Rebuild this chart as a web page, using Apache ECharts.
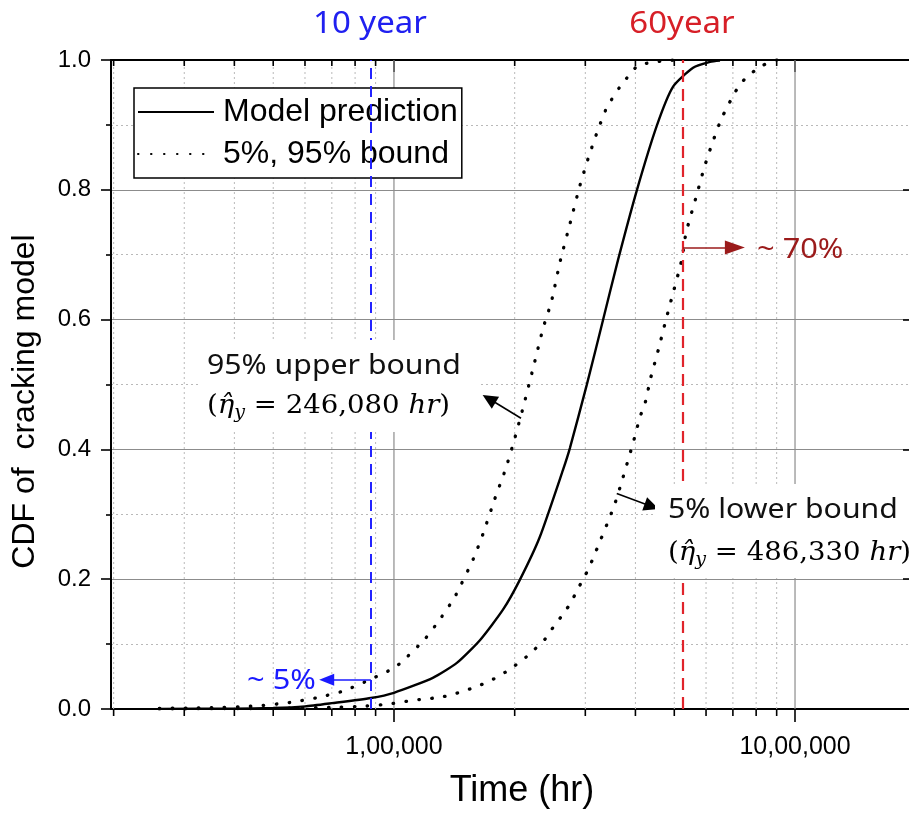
<!DOCTYPE html>
<html>
<head>
<meta charset="utf-8">
<script src="https://cdn.jsdelivr.net/npm/echarts@6/dist/echarts.min.js"></script>
<style>
html,body{margin:0;padding:0;background:#fff}
#chart{width:909px;height:814px}
</style>
</head>
<body>
<div id="chart"></div>
<script>
// 坐标轴刻度
let xTickValues = [100000, 1000000]
let xTickLabels = ['1,00,000', '10,00,000']
let xMinorTicks = [20000, 30000, 40000, 50000, 60000, 70000, 80000, 90000, 200000, 300000, 400000, 500000, 600000, 700000, 800000, 900000]
let yTickLabels = ['0.0', '0.2', '0.4', '0.6', '0.8', '1.0']

// 模型预测 (hr, CDF)
let modelTime = [26000, 40000, 50000, 60000, 70000, 87600, 100000, 125000, 143500, 163800, 187000, 206000, 231000, 263800, 274600, 302400, 332000, 362000, 403600, 453000, 496600, 557000, 614000, 650000]
let modelCdf = [0.0002, 0.0005, 0.0015, 0.004, 0.009, 0.017, 0.025, 0.048, 0.071, 0.106, 0.153, 0.199, 0.265, 0.368, 0.402, 0.499, 0.599, 0.692, 0.80, 0.90, 0.959, 0.988, 0.997, 0.999]

// 95% upper bound
let upperTime = [26000, 35000, 45000, 55000, 65000, 75000, 87600, 101500, 119500, 131500, 141900, 157900, 167000, 178000, 189400, 198400, 210200, 222300, 235500, 247000, 259500, 274800, 291000, 305200, 320300, 339000, 366200, 386500, 406500, 439000, 474000, 510000]
let upperCdf = [0.001, 0.002, 0.0046, 0.010, 0.018, 0.028, 0.046, 0.066, 0.108, 0.142, 0.173, 0.232, 0.271, 0.322, 0.368, 0.409, 0.466, 0.525, 0.587, 0.628, 0.689, 0.748, 0.807, 0.849, 0.887, 0.926, 0.959, 0.977, 0.992, 0.996, 0.999, 1.0]

// 5% lower bound
let lowerTime = [26000, 50000, 70000, 85500, 97300, 105500, 113500, 122500, 132800, 142800, 153300, 164500, 176900, 189300, 200500, 213500, 224800, 238300, 249500, 261000, 273600, 284300, 295400, 305200, 315400, 325200, 344500, 355800, 369700, 395500, 410700, 422700, 436600, 456000, 474000, 492600, 521900, 534600, 568600, 593000, 622000, 656000, 702500, 732000, 772700, 826000, 900000]
let lowerCdf = [0.0002, 0.001, 0.0025, 0.0046, 0.0077, 0.011, 0.014, 0.016, 0.019, 0.024, 0.030, 0.037, 0.046, 0.0565, 0.067, 0.080, 0.0925, 0.108, 0.126, 0.142, 0.160, 0.179, 0.199, 0.215, 0.236, 0.256, 0.294, 0.317, 0.350, 0.412, 0.450, 0.471, 0.510, 0.553, 0.594, 0.633, 0.692, 0.733, 0.792, 0.833, 0.872, 0.910, 0.946, 0.964, 0.978, 0.991, 1.0]

// 10 year / 60 year
let markTime = [87600, 525600]
// 箭头 [起点, 终点]
let arrowUpper = [[207400, 0.448], [172600, 0.478]]
let arrowLower = [[359300, 0.332], [439200, 0.312]]
let arrow70 = [[525600, 0.711], [708000, 0.711]]
let arrow5 = [[87600, 0.045], [67950, 0.045]]

function pairs(xs, ys){
    return xs.map((x, i) => [x, ys[i]])
}

let gridData = xMinorTicks.map(v => [v, 0]).concat(xTickValues.map(v => [v, 1]))

function renderGrid(params, api){
    let x = api.value(0)
    let major = api.value(1) == 1
    let p0 = api.coord([x, 0])
    let p1 = api.coord([x, 1])
    let children = [{
        type: 'line',
        shape: {x1: p0[0], y1: p0[1], x2: p1[0], y2: p1[1]},
        style: major ? {stroke: '#8c8c8c', lineWidth: 1.2} : {stroke: '#b9b9b9', lineWidth: 1, lineDash: [2, 3]}
    }]
    if(!major){
        children.push({type: 'line', shape: {x1: p0[0], y1: p0[1], x2: p0[0], y2: p0[1] + 7}, style: {stroke: '#000', lineWidth: 1.6}})
        children.push({type: 'line', shape: {x1: p1[0], y1: p1[1], x2: p1[0], y2: p1[1] + 6}, style: {stroke: '#000', lineWidth: 1.6}})
    }
    return {type: 'group', children: children}
}

function arrowItem(a, color, size){
    return [
        {coord: a[0], symbol: 'none', lineStyle: {color: color, width: 1.6, type: 'solid'}, itemStyle: {color: color}},
        {coord: a[1], symbol: 'triangle', symbolSize: size, itemStyle: {color: color}}
    ]
}

let sans = 'Liberation Sans'
let dotted = {color: '#000', width: 3.3, type: [0.5, 12.5], cap: 'round'}

var mychart = echarts.init(document.getElementById('chart'))
mychart.setOption({
    animation: false,
    backgroundColor: '#fff',
    grid: {left: 111, right: 0, top: 60, bottom: 105, containLabel: false},
    legend: {
        left: 134, top: 88, orient: 'vertical',
        data: ['Model prediction', '5%, 95% bound'],
        itemWidth: 76, itemHeight: 20, itemGap: 10,
        padding: [8, 4, 8, 3],
        backgroundColor: '#fff', borderColor: '#000', borderWidth: 1.5, borderRadius: 0,
        selectedMode: false,
        itemStyle: {opacity: 0, borderWidth: 0},
        textStyle: {fontSize: 32, fontFamily: sans, color: '#000', padding: [0, 0, 0, 4]}
    },
    xAxis: [{
        type: 'log', logBase: 10, min: 19700, max: 1924000,
        axisLine: {show: true, onZero: false, lineStyle: {color: '#000', width: 2}},
        axisTick: {show: true, inside: false, length: 13, customValues: xTickValues, lineStyle: {color: '#000', width: 1.6}},
        axisLabel: {
            customValues: xTickValues,
            formatter: v => xTickLabels[Math.round(Math.log10(v)) - 5],
            fontSize: 25, fontFamily: sans, color: '#000', margin: 26
        },
        splitLine: {show: false},
        name: 'Time (hr)', nameLocation: 'middle', nameGap: 64,
        nameTextStyle: {fontSize: 36, fontFamily: sans, color: '#000', padding: [0, 0, 0, 24]}
    }, {
        type: 'log', logBase: 10, min: 19700, max: 1924000, position: 'top',
        axisLine: {show: true, onZero: false, lineStyle: {color: '#000', width: 2}},
        axisTick: {show: true, inside: true, length: 12, customValues: xTickValues, lineStyle: {color: '#000', width: 1.6}},
        axisLabel: {show: false},
        splitLine: {show: false}
    }],
    yAxis: [{
        type: 'value', min: 0, max: 1, interval: 0.2,
        axisLine: {show: true, onZero: false, lineStyle: {color: '#000', width: 2}},
        axisTick: {show: true, inside: false, length: 10, lineStyle: {color: '#000', width: 1.6}},
        minorTick: {show: true, splitNumber: 2, length: 5, lineStyle: {color: '#000', width: 1.6}},
        splitLine: {show: true, lineStyle: {color: '#8c8c8c', width: 1.2}},
        minorSplitLine: {show: true, lineStyle: {color: '#b9b9b9', width: 1, type: [2, 3]}},
        axisLabel: {formatter: v => yTickLabels[Math.round(v * 5)], fontSize: 24, fontFamily: sans, color: '#000', margin: 20},
        name: 'CDF of  cracking model', nameLocation: 'middle', nameGap: 70,
        nameTextStyle: {fontSize: 32, fontFamily: sans, color: '#000', padding: [0, 34, 0, 0]}
    }, {
        type: 'value', min: 0, max: 1, interval: 0.2, position: 'right',
        axisLine: {show: false},
        axisTick: {show: true, inside: true, length: 6, lineStyle: {color: '#000', width: 1.6}},
        minorTick: {show: false},
        axisLabel: {show: false},
        splitLine: {show: false}
    }],
    series: [{
        name: 'grid', type: 'custom', z: 1, clip: false, silent: true,
        data: gridData, encode: {x: 0, y: 1},
        renderItem: renderGrid
    }, {
        name: 'Model prediction', type: 'line', z: 3,
        data: pairs(modelTime, modelCdf),
        symbol: 'none', showSymbol: false, smooth: 0.2,
        lineStyle: {color: '#000', width: 2.4},
        itemStyle: {color: '#000'},
        markLine: {
            silent: true, symbol: ['none', 'none'], animation: false,
            label: {show: false},
            data: [
                {xAxis: markTime[0], lineStyle: {color: '#2323ff', type: [11, 7], width: 2}},
                {xAxis: markTime[1], lineStyle: {color: '#e0242b', type: [12, 7], width: 2.2}},
                arrowItem(arrowUpper, '#000', [14, 15]),
                arrowItem(arrowLower, '#000', [14, 15]),
                arrowItem(arrow70, '#9b1b1b', [14, 20]),
                arrowItem(arrow5, '#1a1aff', [12, 15])
            ]
        }
    }, {
        name: '5%, 95% bound', type: 'line', z: 3,
        data: pairs(upperTime, upperCdf),
        symbol: 'none', showSymbol: false, smooth: 0.2,
        lineStyle: dotted, itemStyle: {color: '#000'}
    }, {
        name: '5%, 95% bound', type: 'line', z: 3,
        data: pairs(lowerTime, lowerCdf),
        symbol: 'none', showSymbol: false, smooth: 0.2,
        lineStyle: dotted, itemStyle: {color: '#000'}
    }]
})

// 文字注释
let korean = 'Noto Sans'
function mathText(num){
    return '{p|(}{eta|\u03b7\u0302}{sub|y}{p| = ' + num + ' }{it|hr}{p|)}'
}
let mathRich = {
    p: {fontFamily: 'DejaVu Serif', fontSize: 26, fill: '#000'},
    eta: {fontFamily: 'DejaVu Serif', fontStyle: 'italic', fontSize: 26, fill: '#000'},
    it: {fontFamily: 'DejaVu Serif', fontStyle: 'italic', fontSize: 26, fill: '#000'},
    sub: {fontFamily: 'DejaVu Serif', fontStyle: 'italic', fontSize: 18, fill: '#000', padding: [14, 0, 0, 0]}
}
function label(text, x, y, color, size, align){
    return {type: 'text', x: x, y: y, z: 60, scaleX: 1.1,
        style: {text: text, fill: color, font: size + 'px "' + korean + '"', align: align || 'left', verticalAlign: 'middle'}}
}
mychart.setOption({
    graphic: [
        {type: 'rect', z: 50, shape: {x: 198, y: 340, width: 282, height: 92}, style: {fill: '#fff'}},
        {type: 'rect', z: 50, shape: {x: 655, y: 484, width: 260, height: 94}, style: {fill: '#fff'}},
        label('95% upper bound', 207, 366, '#111', 27.5),
        {type: 'text', x: 207, y: 406, z: 60, scaleX: 1.06, style: {text: mathText('246,080'), rich: mathRich, verticalAlign: 'middle'}},
        label('5% lower bound', 668, 510, '#111', 27.5),
        {type: 'text', x: 668, y: 553, z: 60, scaleX: 1.06, style: {text: mathText('486,330'), rich: mathRich, verticalAlign: 'middle'}},
        label('~ 70%', 757, 250, '#9b1b1b', 28),
        label('~ 5%', 247, 681, '#1a1aff', 28),
        {type: 'text', x: 370, y: 24, z: 60, scaleX: 1.1, style: {text: '10 year', fill: '#2020f0', font: '30px "' + korean + '"', align: 'center', verticalAlign: 'middle'}},
        {type: 'text', x: 682, y: 24, z: 60, scaleX: 1.1, style: {text: '60year', fill: '#d71f27', font: '30px "' + korean + '"', align: 'center', verticalAlign: 'middle'}}
    ]
})
</script>
</body>
</html>
